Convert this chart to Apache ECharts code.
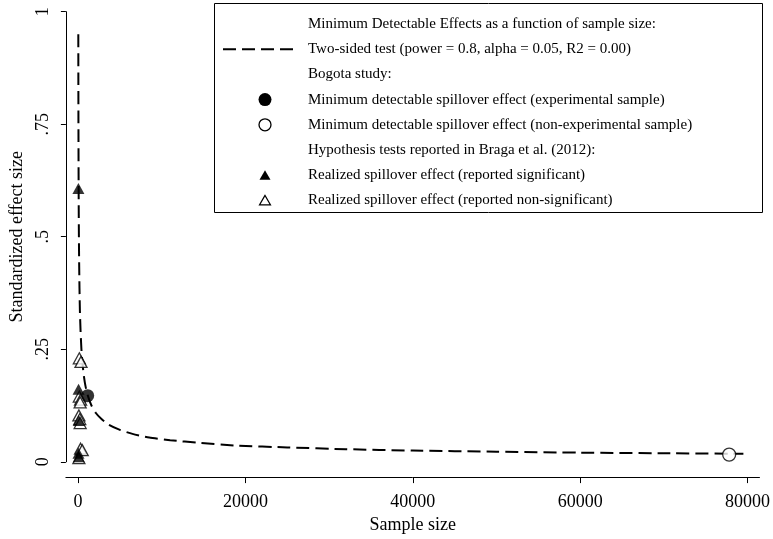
<!DOCTYPE html>
<html><head><meta charset="utf-8">
<script src="https://cdn.jsdelivr.net/npm/echarts@6/dist/echarts.min.js"></script>
<style>html,body{margin:0;padding:0;background:#fff}#c{width:773px;height:539px}</style>
</head><body><div id="c"></div>
<script>
// ---- data ----
const curveN = [28,35,45,60,80,100,130,170,220,300,400,520,700,900,1200,1600,2100,2800,3700,5000,6500,8500,11000,14500,19000,25000,32000,40000,50000,60000,70000,79500];
const curveY = [0.95,0.85,0.75,0.645,0.56,0.50,0.44,0.385,0.335,0.29,0.25,0.22,0.19,0.167,0.145,0.125,0.109,0.095,0.082,0.071,0.062,0.054,0.048,0.042,0.036,0.032,0.028,0.025,0.0224,0.0204,0.019,0.0178];
const expN = [1150], expY = [0.147];
const nonExpN = [77800], nonExpY = [0.016];
const sigN = [40, 60, 90, 50, 80];
const sigY = [0.607, 0.161, 0.092, 0.019, 0.011];
const nsN = [150, 350, 150, 300, 250, 100, 200, 250, 300, 500, 100];
const nsY = [0.23, 0.222, 0.145, 0.138, 0.132, 0.103, 0.095, 0.086, 0.029, 0.026, 0.008];
const xTicks = [0, 20000, 40000, 60000, 80000];
const yTicks = [0, 0.25, 0.5, 0.75, 1];
const legendRows = [
  {kind:'none', text:'Minimum Detectable Effects as a function of sample size:'},
  {kind:'dash', text:'Two-sided test (power = 0.8, alpha = 0.05, R2 = 0.00)'},
  {kind:'none', text:'Bogota study:'},
  {kind:'dot', text:'Minimum detectable spillover effect (experimental sample)'},
  {kind:'ring', text:'Minimum detectable spillover effect (non-experimental sample)'},
  {kind:'none', text:'Hypothesis tests reported in Braga et al. (2012):'},
  {kind:'tri', text:'Realized spillover effect (reported significant)'},
  {kind:'otri', text:'Realized spillover effect (reported non-significant)'}
];
const xTitle = 'Sample size';
const yTitle = 'Standardized effect size';

const zip = (a, b) => a.map((v, i) => [v, b[i]]);
const FONT = '"Liberation Serif", "Times New Roman", serif';

// ---- legend graphics ----
const LX0 = 214, LX1 = 762, LY0 = 3, ROW0 = 24, ROWH = 25.2;
const LB = 212;
const SX = 265, TX = 308;
const graphics = [{
  type: 'rect', shape: {x: LX0 + 0.5, y: LY0 + 0.5, width: LX1 - LX0, height: LB - LY0},
  style: {fill: '#fff', stroke: '#000', lineWidth: 1}, z: 100
}];
legendRows.forEach((r, i) => {
  const y = ROW0 + ROWH * i;
  graphics.push({type: 'text', x: TX, y: y, z: 101,
    style: {text: r.text, font: '15px ' + FONT, fill: '#000', verticalAlign: 'middle', align: 'left'}});
  if (r.kind === 'dash') graphics.push({type: 'line', z: 101, shape: {x1: 223, y1: y, x2: 296, y2: y},
    style: {stroke: '#000', lineWidth: 2, lineDash: [13, 6]}});
  if (r.kind === 'dot') graphics.push({type: 'circle', z: 101, shape: {cx: SX, cy: y, r: 6.5}, style: {fill: '#000'}});
  if (r.kind === 'ring') graphics.push({type: 'circle', z: 101, shape: {cx: SX, cy: y, r: 6}, style: {fill: '#fff', stroke: '#000', lineWidth: 1.3}});
  if (r.kind === 'tri') graphics.push({type: 'polygon', z: 101, shape: {points: [[SX, y - 5], [SX - 5.5, y + 4.5], [SX + 5.5, y + 4.5]]}, style: {fill: '#000'}});
  if (r.kind === 'otri') graphics.push({type: 'polygon', z: 101, shape: {points: [[SX, y - 5], [SX - 5.5, y + 4.5], [SX + 5.5, y + 4.5]]}, style: {fill: '#fff', stroke: '#000', lineWidth: 1.2}});
});

const chart = echarts.init(document.getElementById('c'), null, {renderer: 'canvas'});
chart.setOption({
  animation: false,
  backgroundColor: '#fff',
  textStyle: {fontFamily: FONT, color: '#000'},
  grid: {left: 61, right: 11, top: 11.7, bottom: 72.3, containLabel: false},
  xAxis: {
    type: 'value', min: -1454, max: 81420, offset: 15.3,
    splitLine: {show: false},
    axisLine: {show: true, onZero: false, lineStyle: {color: '#000', width: 1}},
    axisTick: {show: true, length: 6, customValues: xTicks, lineStyle: {color: '#000'}},
    axisLabel: {customValues: xTicks, fontFamily: FONT, fontSize: 18, color: '#000', margin: 16,
      formatter: v => String(v)},
    name: xTitle, nameLocation: 'middle', nameGap: 33,
    nameTextStyle: {fontFamily: FONT, fontSize: 18, color: '#000'}
  },
  yAxis: {
    type: 'value', min: 0, max: 1, interval: 0.25,
    splitLine: {show: false},
    axisLine: {show: true, onZero: false, lineStyle: {color: '#000', width: 1}},
    axisTick: {show: true, length: 5, lineStyle: {color: '#000'}},
    axisLabel: {rotate: 90, fontFamily: FONT, fontSize: 18, color: '#000', margin: 14,
      formatter: v => (v === 0 ? '0' : v === 1 ? '1' : String(v).replace(/^0\./, '.'))},
    name: yTitle, nameLocation: 'middle', nameGap: 35, nameRotate: 90,
    nameTextStyle: {fontFamily: FONT, fontSize: 18, color: '#000'}
  },
  series: [
    {type: 'line', data: zip(curveN, curveY), showSymbol: false, smooth: 0.2, clip: false, z: 2,
      lineStyle: {color: '#000', width: 2, type: [13, 6]}},
    {type: 'scatter', data: zip(nsN, nsY), symbol: 'triangle', symbolSize: [12, 11], z: 4,
      itemStyle: {color: '#fff', borderColor: '#000', borderWidth: 1.3}},
    {type: 'scatter', data: zip(sigN, sigY), symbol: 'triangle', symbolSize: [12, 11], z: 5,
      itemStyle: {color: '#000'}},
    {type: 'scatter', data: zip(expN, expY), symbol: 'circle', symbolSize: 13, z: 5,
      itemStyle: {color: '#000'}},
    {type: 'scatter', data: zip(nonExpN, nonExpY), symbol: 'circle', symbolSize: 13, z: 5,
      itemStyle: {color: '#fff', borderColor: '#000', borderWidth: 1.3}}
  ],
  graphic: graphics
});
</script></body></html>
